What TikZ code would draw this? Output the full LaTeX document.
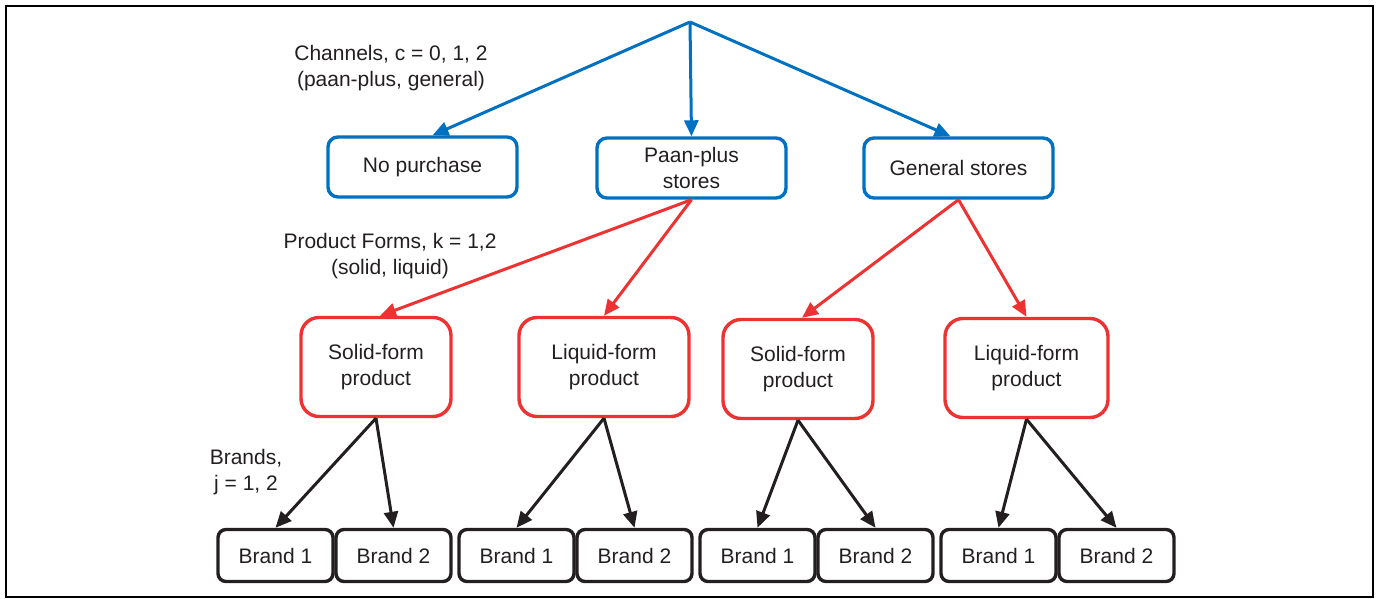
\documentclass[tikz,border=0pt]{standalone}
\usepackage{fontspec}
\setmainfont{Liberation Sans}
\usepackage{tikz}
\usetikzlibrary{arrows.meta}
\definecolor{chanblue}{RGB}{0,112,192}
\definecolor{formred}{RGB}{238,50,50}
\definecolor{inkgray}{RGB}{35,31,32}

\tikzset{
  txt/.style={font=\fontsize{10.5}{13}\selectfont, text=inkgray, align=center},
  chanbox/.style={txt, draw=chanblue, line width=1.7pt, rounded corners=5pt,
    minimum width=94.5pt, minimum height=30pt, inner sep=0pt},
  formbox/.style={txt, draw=formred, line width=1.7pt, rounded corners=9pt,
    minimum height=49.5pt, inner sep=0pt},
  brandbox/.style={txt, draw=inkgray, line width=1.7pt, rounded corners=4pt,
    minimum width=57.5pt, minimum height=26pt, inner sep=0pt},
  chanarr/.style={draw=chanblue, line width=1.5pt, -{Triangle[length=8pt,width=7pt]}},
  formarr/.style={draw=formred, line width=1.5pt, -{Triangle[length=8pt,width=7pt]}},
  brandarr/.style={draw=inkgray, line width=1.5pt, -{Triangle[length=8pt,width=7pt]}}
}

\begin{document}
\begin{tikzpicture}[x=0.5pt,y=-0.5pt]
        \useasboundingbox (0,0) rectangle (1378,599);
        \draw[line width=1pt] (6,6) rectangle (1373,597);

        \coordinate (root) at (690,22);
        \node[txt] (chanlab) at (391,68) {Channels, c = 0, 1, 2\\(paan-plus, general)};
        \node[txt] (formlab) at (390,256) {Product Forms, k = 1,2\\(solid, liquid)};
        \node[txt] (brandlab) at (246,472) {Brands,\\j = 1, 2};

        \node[chanbox] (nop) at (422.5,167) {No purchase};
        \node[chanbox] (pps) at (691.5,168) {Paan-plus\\stores};
        \node[chanbox] (gen) at (958.5,168) {General stores};

        \node[formbox,minimum width=75pt] (sf1) at (376,367) {Solid-form\\product};
        \node[formbox,minimum width=85pt] (lf1) at (604,367) {Liquid-form\\product};
        \node[formbox,minimum width=75pt] (sf2) at (798,369) {Solid-form\\product};
        \node[formbox,minimum width=81.5pt] (lf2) at (1026.5,368) {Liquid-form\\product};

        \node[brandbox] (b11) at (275.5,555.5) {Brand 1};
        \node[brandbox] (b12) at (393.5,555.5) {Brand 2};
        \node[brandbox] (b21) at (516.5,555.5) {Brand 1};
        \node[brandbox] (b22) at (634.5,555.5) {Brand 2};
        \node[brandbox] (b31) at (757.5,555.5) {Brand 1};
        \node[brandbox] (b32) at (875.5,555.5) {Brand 2};
        \node[brandbox] (b41) at (998.5,555.5) {Brand 1};
        \node[brandbox] (b42) at (1116.5,555.5) {Brand 2};

        \draw[chanarr] (root) -- ([xshift=5pt]nop.north);
        \draw[chanarr] (root) -- (pps.north);
        \draw[chanarr] (root) -- ([xshift=-4pt]gen.north);

        \draw[formarr] (pps.south) -- ([xshift=2pt]sf1.north);
        \draw[formarr] (pps.south) -- (lf1.north);
        \draw[formarr] (gen.south) -- ([xshift=2pt]sf2.north);
        \draw[formarr] (gen.south) -- (lf2.north);

        \draw[brandarr] (sf1.south) -- (b11.north);
        \draw[brandarr] (sf1.south) -- (b12.north);
        \draw[brandarr] (lf1.south) -- (b21.north);
        \draw[brandarr] (lf1.south) -- (b22.north);
        \draw[brandarr] (sf2.south) -- (b31.north);
        \draw[brandarr] (sf2.south) -- (b32.north);
        \draw[brandarr] (lf2.south) -- (b41.north);
        \draw[brandarr] (lf2.south) -- (b42.north);
    \end{tikzpicture}
\end{document}
